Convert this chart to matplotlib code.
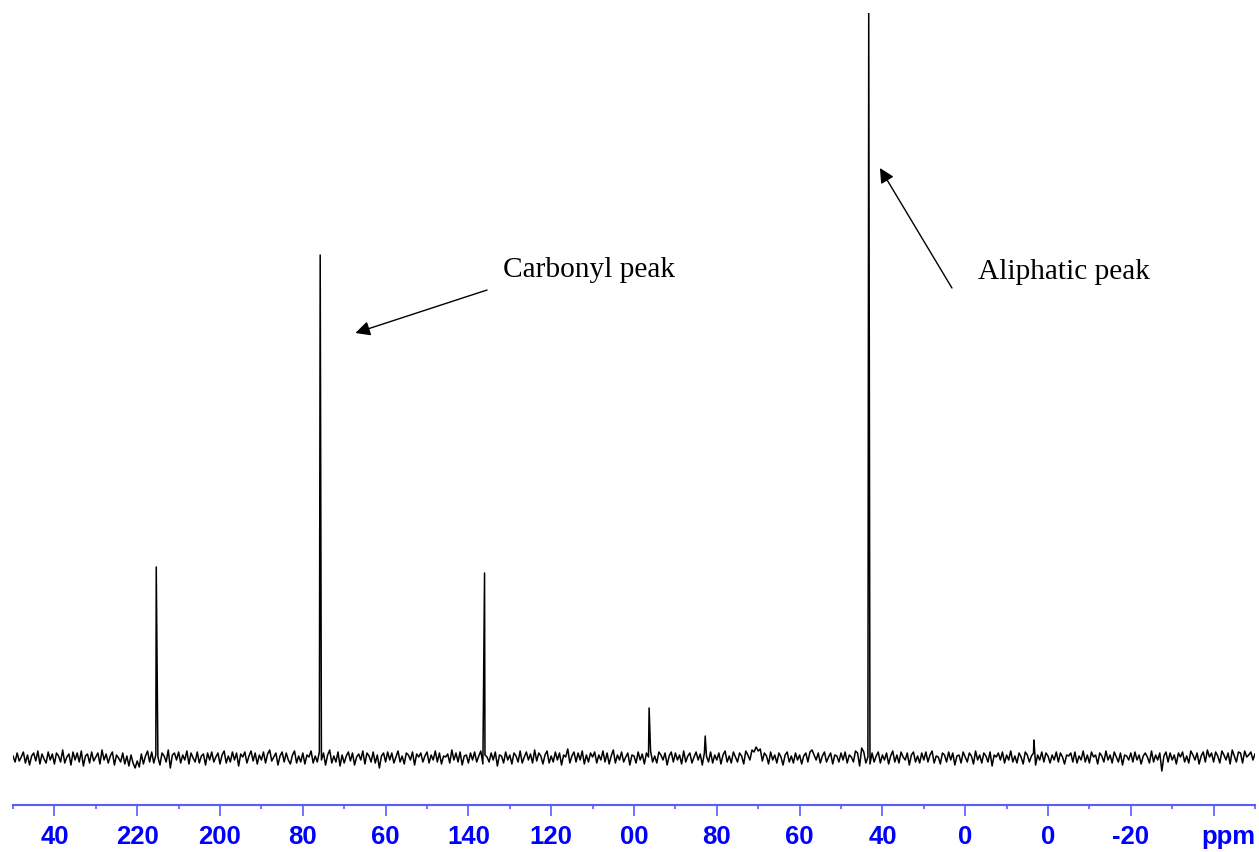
import numpy as np
import matplotlib
matplotlib.use("Agg")
from matplotlib import pyplot as plt
from matplotlib.ticker import FixedLocator

# baseline noise, sampled every 0.5 ppm from 250 ppm downwards
ppm_start = 250.0
ppm_step = 0.5
noise = [
    2, -4, 5, -3, 1, 6, -5, 3, -7, 2, 5, -3, 7, -6, 4, -1, -5, 6, -2, 4,
    -6, 5, 2, -4, 8, -5, 1, 4, -7, 6, -2, 5, -4, 7, -8, 2, 4, -5, 6, -3,
    1, 5, -6, 8, -2, 4, -5, 2, 6, -7, 3, 0, -4, 5, -6, 2, -8, 3, -5, -10,
    -3, -9, 4, -6, 2, 7, -4, 6, -5, 3, 1, -7, 5, 2, -4, 8, -10, 3, 5, -2,
    6, -5, 3, -2, 7, -6, 5, 0, -4, 6, -5, 2, 4, -7, 5, -2, 6, -4, 1, 5,
    -6, 3, 7, -5, 2, -4, 6, -2, 5, -8, 4, 1, 6, -5, 2, 7, -3, 5, -6, 3,
    -2, 6, -5, 4, 8, -3, 1, 5, -7, 2, 6, -4, 5, -2, -6, 3, 7, -5, 2, -4,
    5, -6, 3, 1, 7, -5, 2, -4, 6, -2, 5, -7, 3, 8, -5, 2, -4, 6, -8, 3,
    -5, 2, 6, -3, 5, -7, 1, 4, -2, 7, -6, 5, 2, -4, 6, -5, 3, -10, 2, 5,
    -4, 6, -2, 5, -5, 1, 7, -4, 2, -6, 5, 3, -2, 6, -7, 4, 1, 5, -4, 2,
    6, -5, 3, -2, 7, -4, 5, -6, 2, 1, 4, -5, 8, -2, 5, -4, 6, -7, 2, 3,
    -5, 5, -2, 6, -4, 2, 7, -6, 3, 1, -4, 5, -2, 6, -8, 3, 2, -5, 6, -2,
    3, -6, 5, 2, -4, 7, -5, 1, 6, -2, 4, -5, 8, -3, 5, 2, -6, 3, 7, -5,
    2, -4, 6, -2, 5, -7, 3, 1, 9, -5, 2, 6, -4, 5, -2, 7, -6, 3, -4, 5,
    1, 6, -5, 3, -2, 7, -4, 5, -6, 2, 8, -5, 3, -2, 6, -4, 1, 5, -7, 3,
    2, -5, 6, -2, 4, -6, 5, 1, 7, -4, 2, -5, 6, 3, -2, 5, -7, 2, 6, -4,
    5, -2, 3, -6, 7, -4, 2, 5, -5, 1, 6, -2, 4, -7, 5, 2, -4, 6, -5, 3,
    -2, 5, -6, 3, 7, -4, 2, -5, 6, 1, -4, 5, 2, -6, 7, 3, -2, 8, 6, 11,
    7, 9, -3, 5, 2, -6, 6, -2, 3, -5, 5, 1, -7, 3, 6, -4, 2, -5, 5, -2,
    3, -6, 2, 5, -4, 6, 8, 3, -2, 5, -5, 2, 6, -4, 1, 5, -6, 3, 2, -4,
    5, -2, 6, -5, 3, 1, -4, 7, 5, -8, 10, 6, -5, 1, -6, 5, -4, 2, 6, -5,
    3, -2, 5, -6, 2, 7, -4, 3, -5, 6, 1, -2, 5, -7, 3, 6, -4, 2, -5, 5,
    -2, 6, -4, 3, 7, -5, 2, 1, -6, 5, 3, -4, 6, -2, 5, -7, 2, 3, -5, 6,
    1, -4, 5, 2, -6, 7, -2, 3, -5, 5, 2, -4, 6, -8, 3, 1, 5, -2, 6, -5,
    3, -2, 7, -4, 2, -5, 5, 1, -6, 6, 3, -4, 2, 5, -7, 3, -2, 6, -4, 5,
    2, -5, 3, -2, 6, -4, 5, 1, -6, 3, 2, 5, -4, 6, -5, 2, -2, 7, -4, 3,
    -5, 6, 1, 3, -6, 5, 2, -4, 7, -2, 3, -5, 6, 1, -4, 5, -7, 3, 2, -2,
    5, -4, 6, -2, 3, -6, 2, 5, 1, -5, 7, -4, 3, -2, 5, -13, 2, 6, -4, 5,
    -2, 3, -6, 5, 1, 6, -4, 2, -5, 7, 3, -2, 5, -6, 2, 6, -4, 8, 1, 5,
    -4, 6, 2, -5, 7, 3, -2, 5, -6, 8, 2, -4, 6, 5, -5, 7, 1, 3, 6, -2,
    4,
]

# resonances: position (ppm) and height
peak_ppm = [215.4, 175.8, 136.1, 96.35, 82.8, 43.3, 3.4]
peak_height = [191, 503, 185, 50, 22, 745, 18]

tick_pos = [240, 220, 200, 180, 160, 140, 120, 100, 80, 60, 40, 20, 0, -20, -40]
tick_text = ["40", "220", "200", "80", "60", "140", "120", "00", "80", "60",
             "40", "0", "0", "-20", ""]
minor_pos = [250, 230, 210, 190, 170, 150, 130, 110, 90, 70, 50, 30, 10, -10, -30, -50]

grid_ppm = ppm_start - ppm_step * np.arange(len(noise))
x = np.concatenate([grid_ppm, peak_ppm])
y = np.concatenate([noise, peak_height]).astype(float)
order = np.argsort(-x)
x, y = x[order], y[order]

fig = plt.figure(figsize=(12.59, 8.52), dpi=100)
ax = fig.add_axes([13 / 1259, 47 / 852, 1242 / 1259, 792 / 852])
ax.plot(x, y, color="black", lw=1.1)
ax.set_xlim(250, -50)
ax.set_ylim(-47, 745)

axis_blue = "#5a5aff"
for s in ["left", "top", "right"]:
    ax.spines[s].set_visible(False)
ax.spines["bottom"].set_color(axis_blue)
ax.spines["bottom"].set_linewidth(1.5)
ax.set_yticks([])
ax.xaxis.set_major_locator(FixedLocator(tick_pos))
ax.xaxis.set_minor_locator(FixedLocator(minor_pos))
ax.set_xticklabels(tick_text, fontfamily="Liberation Sans", fontweight="bold",
                   fontsize=18.5, color="#0000ff")
ax.tick_params(axis="x", which="major", length=8, width=1.2, color=axis_blue, pad=6.5)
ax.tick_params(axis="x", which="minor", length=3, width=1.2, color=axis_blue)
ax.annotate("ppm", xy=(-40, 0), xycoords=("data", "axes fraction"),
            xytext=(11, -14.5), textcoords="offset points", ha="center", va="top",
            fontfamily="Liberation Sans", fontweight="bold", fontsize=18.5,
            color="#0000ff", annotation_clip=False)

arrow = dict(arrowstyle="-|>", color="black", lw=1.0, mutation_scale=22,
             shrinkA=0, shrinkB=0)
ax.annotate("", xy=(167.3, 425), xytext=(135.5, 468), arrowprops=arrow)
ax.annotate("", xy=(40.6, 590), xytext=(23.2, 470), arrowprops=arrow)
ax.text(131.6, 488, "Carbonyl peak", fontfamily="Liberation Serif",
        fontsize=21.2, va="center", ha="left")
ax.text(16.9, 486, "Aliphatic peak", fontfamily="Liberation Serif",
        fontsize=21.2, va="center", ha="left")

fig.savefig("out.png", dpi=100)
